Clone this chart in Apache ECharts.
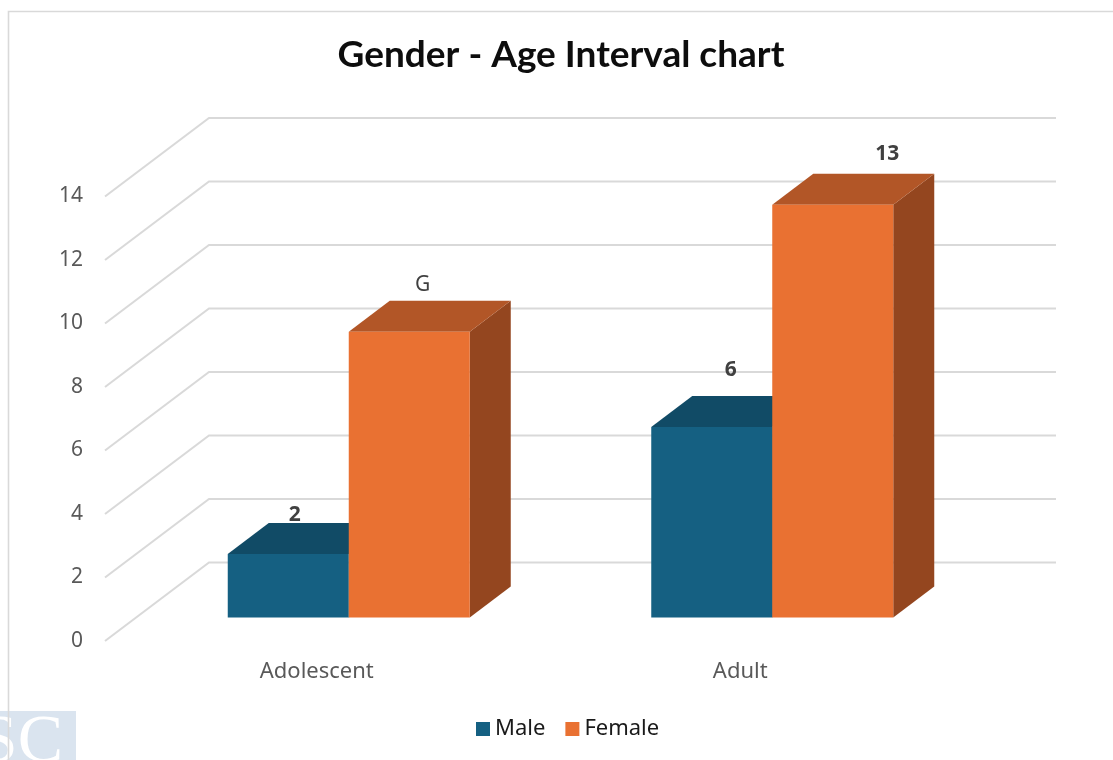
<!DOCTYPE html>
<html>
<head>
<meta charset="utf-8">
<style>html,body{margin:0;padding:0;background:#fff}#c{width:1113px;height:760px}</style>
<script src="https://cdn.jsdelivr.net/npm/echarts@6/dist/echarts.min.js"></script>
</head>
<body>
<div id="c"></div>
<script>
const chartTitle = 'Gender - Age Interval chart';
const categories = ['Adolescent', 'Adult'];
const tickValues = [0, 2, 4, 6, 8, 10, 12, 14];
const maleValues = [2, 6];
const femaleValues = [9, 13];
const maleLabels = ['2', '6'];
const femaleLabels = ['G', '13'];

const FONT = '"Noto Sans", sans-serif';
const WALL_DX = 104, WALL_DY = 78.5;    // floor depth of the 3D plot
const BAR_DX = 32, BAR_DY = 23.5;       // bars stand this far into the floor
const DEPTH_DX = 41, DEPTH_DY = 31;     // bar depth
const BAR_FRAC = 121 / 423.5;
const maleLabelShift = [[6.5, -39], [19, -57]];
const femaleLabelShift = [[13.5, -47], [54.5, -51]];

function wallItem(params, api) {
  const y = api.coord([0, api.value(0)])[1];
  const cs = params.coordSys;
  return {
    type: 'polyline',
    shape: { points: [[cs.x, y], [cs.x + WALL_DX, y - WALL_DY], [cs.x + cs.width + WALL_DX, y - WALL_DY]] },
    style: { stroke: '#d9d9d9', lineWidth: 2, fill: null }
  };
}

function barRenderer(side, colors, labels, shifts) {
  return function (params, api) {
    const idx = api.value(0), val = api.value(1);
    const base = api.coord([idx, 0]);
    const top = api.coord([idx, val]);
    const w = api.size([1, 0])[0] * BAR_FRAC;
    const cx = base[0] + BAR_DX;
    const x0 = side < 0 ? cx - w : cx, x1 = x0 + w;
    const yb = base[1] - BAR_DY, yt = top[1] - BAR_DY;
    const poly = (pts, fill) => ({ type: 'polygon', shape: { points: pts }, style: { fill: fill } });
    const txt = labels[idx];
    const shift = shifts[idx];
    return {
      type: 'group',
      children: [
        poly([[x1, yb], [x1 + DEPTH_DX, yb - DEPTH_DY], [x1 + DEPTH_DX, yt - DEPTH_DY], [x1, yt]], colors[2]),
        poly([[x0, yt], [x1, yt], [x1 + DEPTH_DX, yt - DEPTH_DY], [x0 + DEPTH_DX, yt - DEPTH_DY]], colors[1]),
        poly([[x0, yb], [x1, yb], [x1, yt], [x0, yt]], colors[0]),
        {
          type: 'text', z2: 50,
          style: {
            x: (x0 + x1) / 2 + shift[0], y: yt + shift[1], text: txt,
            align: 'center', verticalAlign: 'middle',
            font: (txt === 'G' ? 'normal' : 'bold') + ' 21px ' + FONT, fill: '#404040'
          }
        }
      ]
    };
  };
}

const chart = echarts.init(document.getElementById('c'), null, { renderer: 'canvas', width: 1113, height: 760 });
chart.setOption({
  animation: false,
  backgroundColor: '#ffffff',
  title: {
    text: chartTitle, left: 556, top: 32, textAlign: 'center',
    textStyle: { fontFamily: 'Lato, ' + FONT, fontSize: 37, fontWeight: 'bold', color: '#0d0d0d' }
  },
  legend: {
    data: ['Male', 'Female'], left: 476, top: 718, padding: 0, icon: 'rect',
    itemWidth: 14, itemHeight: 14, itemGap: 20,
    textStyle: { fontFamily: FONT, fontSize: 22, color: '#1a1a1a', padding: [4, 0, 0, 0] }
  },
  grid: { left: 105, width: 847, top: 196.5, height: 444.5 },
  xAxis: {
    type: 'category', data: categories,
    axisLine: { show: false }, axisTick: { show: false }, splitLine: { show: false },
    axisLabel: { fontFamily: FONT, fontSize: 22, color: '#595959', margin: 20 }
  },
  yAxis: {
    type: 'value', min: 0, max: 14, interval: 2,
    axisLine: { show: false }, axisTick: { show: false }, splitLine: { show: false },
    axisLabel: { fontFamily: FONT, fontSize: 21, color: '#595959', margin: 22 }
  },
  graphic: [
    { type: 'rect', silent: true, z: -10, shape: { x: 0, y: 711, width: 76, height: 49 }, style: { fill: '#dae4ef' } },
    { type: 'text', silent: true, z: -9, style: { x: 63, y: 743, text: 'SC', align: 'right', verticalAlign: 'middle', font: '68px "Liberation Serif", serif', fill: '#ffffff' } },
    { type: 'polyline', silent: true, z: -8, shape: { points: [[8.5, 760], [8.5, 11.5], [1113, 11.5]] }, style: { stroke: '#d9d9d9', lineWidth: 1.6, fill: null } }
  ],
  series: [
    { type: 'custom', name: 'walls', coordinateSystem: 'cartesian2d', clip: false, silent: true, z: 1,
      data: tickValues.map(v => [v]), encode: { y: 0 }, renderItem: wallItem },
    { type: 'custom', name: 'Male', coordinateSystem: 'cartesian2d', clip: false, z: 2,
      itemStyle: { color: '#156082' },
      data: maleValues.map((v, i) => [i, v]), encode: { x: 0, y: 1 },
      renderItem: barRenderer(-1, ['#156082', '#114b66', '#0e3e54'], maleLabels, maleLabelShift) },
    { type: 'custom', name: 'Female', coordinateSystem: 'cartesian2d', clip: false, z: 3,
      itemStyle: { color: '#e97132' },
      data: femaleValues.map((v, i) => [i, v]), encode: { x: 0, y: 1 },
      renderItem: barRenderer(1, ['#e97132', '#b25627', '#94461f'], femaleLabels, femaleLabelShift) }
  ]
});
</script>
</body>
</html>
